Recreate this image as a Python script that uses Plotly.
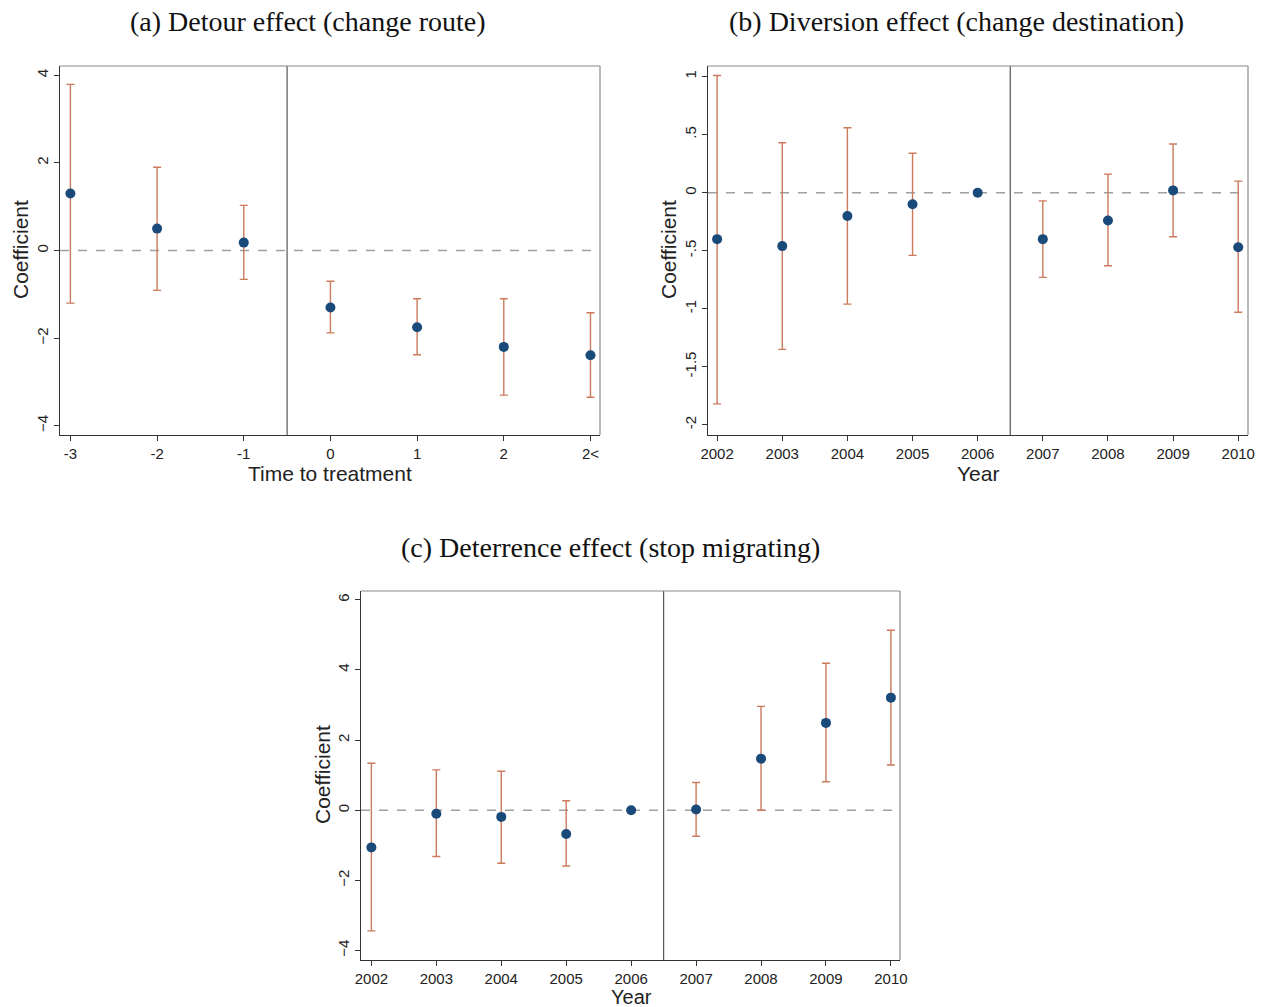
import plotly.graph_objects as go

# ---------------- data ----------------
# Panel (a)
a_labels = ["-3", "-2", "-1", "0", "1", "2", "2<"]
a_coef = [1.30, 0.50, 0.18, -1.30, -1.75, -2.20, -2.39]
a_upper = [3.79, 1.90, 1.03, -0.70, -1.10, -1.10, -1.42]
a_lower = [-1.20, -0.91, -0.66, -1.88, -2.38, -3.30, -3.35]

# Panel (b)
b_years = [2002, 2003, 2004, 2005, 2006, 2007, 2008, 2009, 2010]
b_coef = [-0.40, -0.46, -0.20, -0.10, 0.00, -0.40, -0.24, 0.02, -0.47]
b_upper = [1.01, 0.43, 0.56, 0.34, 0.00, -0.07, 0.16, 0.42, 0.10]
b_lower = [-1.82, -1.35, -0.96, -0.54, 0.00, -0.73, -0.63, -0.38, -1.03]

# Panel (c)
c_years = [2002, 2003, 2004, 2005, 2006, 2007, 2008, 2009, 2010]
c_coef = [-1.06, -0.10, -0.19, -0.68, 0.00, 0.02, 1.47, 2.49, 3.21]
c_upper = [1.34, 1.15, 1.11, 0.27, 0.00, 0.79, 2.96, 4.19, 5.13]
c_lower = [-3.44, -1.32, -1.51, -1.59, 0.00, -0.74, 0.00, 0.81, 1.29]

a_yticks = [-4, -2, 0, 2, 4]
b_yticks = [-2, -1.5, -1, -0.5, 0, 0.5, 1]
b_yticktext = ["-2", "-1.5", "-1", "-.5", "0", ".5", "1"]
c_yticks = [-4, -2, 0, 2, 4, 6]

titles = ["(a) Detour effect (change route)",
          "(b) Diversion effect (change destination)",
          "(c) Deterrence effect (stop migrating)"]

# ---------------- style ----------------
W, H = 1267, 1007
NAVY = "#1a4a7a"
RUST = "#cc7a5c"
AXIS_FONT = "Liberation Sans, Arial, sans-serif"
TITLE_FONT = "Liberation Serif, Times New Roman, serif"


def px(x):
    return x / W


def py(y):
    return 1 - y / H


fig = go.Figure()


def add_panel(xs, coef, upper, lower, xa, ya):
    fig.add_trace(go.Scatter(
        x=xs, y=coef, mode="markers",
        marker=dict(color=NAVY, size=10, line=dict(width=0)),
        error_y=dict(type="data", symmetric=False,
                     array=[u - c for u, c in zip(upper, coef)],
                     arrayminus=[c - l for c, l in zip(coef, lower)],
                     color=RUST, thickness=1.4, width=4),
        xaxis=xa, yaxis=ya, showlegend=False, hoverinfo="x+y"))


add_panel(a_labels, a_coef, a_upper, a_lower, "x", "y")
add_panel(b_years, b_coef, b_upper, b_lower, "x2", "y2")
add_panel(c_years, c_coef, c_upper, c_lower, "x3", "y3")

common_x = dict(showgrid=False, zeroline=False, showline=True, linecolor="#333333",
                linewidth=1.2, ticks="outside", ticklen=5, tickcolor="#333333",
                automargin=False,
                tickfont=dict(family=AXIS_FONT, size=15, color="#222222"))
common_y = dict(showgrid=False, zeroline=False, showline=True, linecolor="#333333",
                linewidth=1.2, ticks="outside", ticklen=5, tickcolor="#333333",
                tickangle=-90, automargin=False,
                tickfont=dict(family=AXIS_FONT, size=15, color="#222222"))

# panel boxes in page pixels: (left, right, top, bottom)
boxA = (60, 600, 66, 435)
boxB = (708, 1248, 66, 435)
boxC = (361, 900, 591, 960)

fig.update_layout(
    width=W, height=H, margin=dict(l=0, r=0, t=0, b=0, autoexpand=False),
    paper_bgcolor="white", plot_bgcolor="white",
    xaxis=dict(domain=[px(boxA[0]), px(boxA[1])], anchor="y", type="category",
               categoryorder="array", categoryarray=a_labels,
               range=[-0.12, 6.11], **common_x),
    yaxis=dict(domain=[py(boxA[3]), py(boxA[2])], anchor="x", range=[-4.21, 4.21],
               tickvals=a_yticks, **common_y),
    xaxis2=dict(domain=[px(boxB[0]), px(boxB[1])], anchor="y2",
                range=[2001.86, 2010.15], tickvals=b_years, **common_x),
    yaxis2=dict(domain=[py(boxB[3]), py(boxB[2])], anchor="x2", range=[-2.088, 1.092],
                tickvals=b_yticks, ticktext=b_yticktext, **common_y),
    xaxis3=dict(domain=[px(boxC[0]), px(boxC[1])], anchor="y3",
                range=[2001.84, 2010.14], tickvals=c_years, **common_x),
    yaxis3=dict(domain=[py(boxC[3]), py(boxC[2])], anchor="x3", range=[-4.27, 6.25],
                tickvals=c_yticks, **common_y),
)

shapes = []
for xa, ya, vx in [("x", "y", 2.5), ("x2", "y2", 2006.5), ("x3", "y3", 2006.5)]:
    xd = xa + " domain"
    yd = ya + " domain"
    # zero reference line
    shapes.append(dict(type="line", xref=xd, yref=ya, x0=0, x1=1, y0=0, y1=0,
                       line=dict(color="#a0a0a0", width=1.6, dash="dash"), layer="below"))
    # treatment line
    shapes.append(dict(type="line", xref=xa, yref=yd, x0=vx, x1=vx, y0=0, y1=1,
                       line=dict(color="#555555", width=1.2), layer="below"))
    # top & right frame
    shapes.append(dict(type="line", xref=xd, yref=yd, x0=0, x1=1, y0=1, y1=1,
                       line=dict(color="#8a8a8a", width=1.2)))
    shapes.append(dict(type="line", xref=xd, yref=yd, x0=1, x1=1, y0=0, y1=1,
                       line=dict(color="#8a8a8a", width=1.2)))
fig.update_layout(shapes=shapes)

ann = []
tfont = dict(family=TITLE_FONT, size=28, color="#111111")


def add_text(text, x, y, font, angle=0):
    ann.append(dict(text=text, x=px(x), y=py(y), xref="paper", yref="paper",
                    xanchor="center", yanchor="middle", showarrow=False,
                    textangle=angle, font=font))


# panel titles
add_text(titles[0], 308, 21, tfont)
add_text(titles[1], 956, 21, tfont)
add_text(titles[2], 610, 547, tfont)
# axis titles
axfont = dict(family=AXIS_FONT, size=21, color="#222222")
add_text("Coefficient", 21, 250, axfont, -90)
add_text("Coefficient", 669, 250, axfont, -90)
add_text("Coefficient", 322, 775, axfont, -90)
add_text("Time to treatment", 330, 473, axfont)
add_text("Year", 978, 473, axfont)
add_text("Year", 631, 997, dict(family=AXIS_FONT, size=20, color="#222222"))
fig.update_layout(annotations=ann)

# remove the default 8px page margin so the figure fills the window exactly
fig.write_html("out.html", config={"displayModeBar": False},
               post_script="document.body.style.margin='0px';")
